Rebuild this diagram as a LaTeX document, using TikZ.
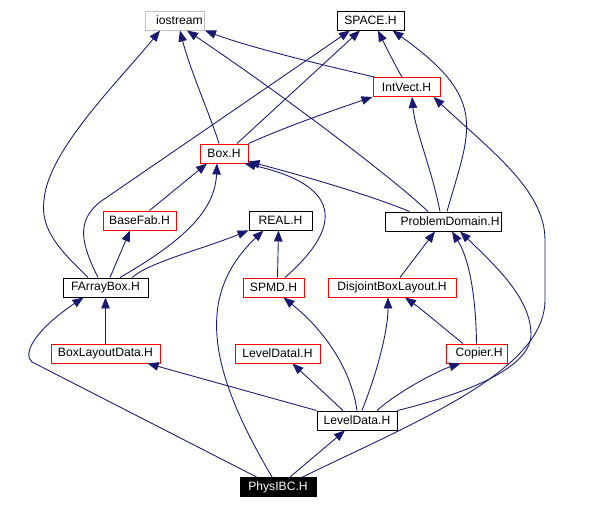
\documentclass[tikz,border=0pt]{standalone}
\usepackage{fontspec}
\setmainfont{Liberation Sans}
\usepackage{xcolor}
\usepackage{tikz}
\usetikzlibrary{arrows.meta, calc}
\definecolor{azulgraf}{HTML}{191970}
\definecolor{cinzaborda}{HTML}{BFBFBF}
\tikzset{
    arq/.style      = {draw, line width=0.55pt, inner sep=0pt, minimum height=0.38cm,
                       font=\fontsize{6.9}{8}\selectfont},
    arqpreto/.style = {arq, draw=black},
    arqverm/.style  = {arq, draw=red},
    arqcinza/.style = {arq, draw=cinzaborda},
    arqatual/.style = {arq, draw=black, fill=black, text=white},
    inc/.style      = {-{Triangle[length=0.22cm, width=0.17cm]}, azulgraf, line width=0.5pt},
}

\begin{document}
\begin{tikzpicture}[x=0.02cm, y=-0.02cm]
    \useasboundingbox (0,0) rectangle (610,509);
    % arquivos
    \node[arqcinza, minimum width=1.18cm] (ios)   at (175,20.5)   {\hspace{5pt}iostream};
    \node[arqpreto, minimum width=1.34cm] (space) at (370.5,20.5) {SPACE.H};
    \node[arqverm,  minimum width=1.34cm] (iv)    at (406.5,87)   {IntVect.H};
    \node[arqverm,  minimum width=0.96cm] (box)   at (224,153.5)  {Box.H};
    \node[arqverm,  minimum width=1.46cm] (bf)    at (139.5,220.5) {BaseFab.H};
    \node[arqpreto, minimum width=1.26cm] (real)  at (280.5,220.5) {REAL.H};
    \node[arqpreto, minimum width=2.32cm] (pd)    at (443,221.5)  {\hspace{8pt}ProblemDomain.H};
    \node[arqpreto, minimum width=1.70cm] (fab)   at (105.5,287.5) {FArrayBox.H};
    \node[arqverm,  minimum width=1.22cm] (spmd)  at (273.5,287.5) {SPMD.H};
    \node[arqverm,  minimum width=2.56cm] (dbl)   at (392,287.5)  {DisjointBoxLayout.H};
    \node[arqverm,  minimum width=2.18cm] (bld)   at (105.5,353.5) {BoxLayoutData.H};
    \node[arqverm,  minimum width=1.70cm] (ldi)   at (277.5,353.5) {LevelDataI.H};
    \node[arqverm,  minimum width=1.22cm] (cop)   at (476.5,353.5) {\hspace{3pt}Copier.H};
    \node[arqpreto, minimum width=1.60cm] (ld)    at (357,420.5)  {LevelData.H};
    \node[arqatual, minimum width=1.52cm] (phys)  at (278,487)    {PhysIBC.H};

    % IntVect.H e Box.H
    \draw[inc] ($(iv.north west)+(2,0)$) .. controls (300,60) and (240,44) .. (ios.south east);
    \draw[inc] ($(iv.north)+(-4.5,0)$) .. controls (395,65) and (385,45) .. ($(space.south)+(7.5,0)$);
    \draw[inc] ($(box.north)+(-5,0)$) .. controls (212,120) and (190,70) .. ($(ios.south)+(5,0)$);
    \draw[inc] ($(box.north)+(13,0)$) -- ($(space.south)+(-10.5,0)$);
    \draw[inc] (box.north east) .. controls (290,125) and (340,108) .. (iv.south west);
    % ProblemDomain.H
    \draw[inc] ($(pd.north)+(-15,0)$) .. controls (395,180) and (290,100) .. ($(ios.south)+(12,0)$);
    \draw[inc] ($(pd.north)+(4,0)$) .. controls (470,130) and (490,100) .. ($(space.south)+(22,0)$);
    \draw[inc] ($(pd.north)+(-3,0)$) .. controls (432,170) and (415,130) .. ($(iv.south)+(5.5,0)$);
    \draw[inc] ($(pd.north west)+(25,0)$) .. controls (370,195) and (300,175) .. ($(box.south east)+(0,-2)$);
    % FArrayBox.H
    \draw[inc] ($(fab.north)+(-17.5,0)$) .. controls (60,250) and (40,230) .. (44,200)
        .. controls (48,150) and (120,80) .. ($(ios.south)+(-15,0)$);
    \draw[inc] ($(fab.north)+(-7.5,0)$) .. controls (82,245) and (75,222) .. (100,202)
        -- ($(space.south)+(-20.5,0)$);
    \draw[inc] ($(fab.north)+(4.5,0)$) -- ($(bf.south)+(-9.5,0)$);
    \draw[inc] ($(fab.north)+(14.5,0)$) .. controls (185,240) and (215,210) .. ($(box.south)+(-7,0)$);
    \draw[inc] ($(fab.north)+(26.5,0)$) .. controls (150,262) and (200,250) .. (real.south west);
    \draw[inc] ($(bf.north)+(10,0)$) -- ($(box.south)+(-17,0)$);
    % SPMD.H
    \draw[inc] ($(spmd.north)+(4,0)$) -- ($(real.south)+(-2,0)$);
    \draw[inc] ($(spmd.north)+(11.5,0)$) .. controls (345,225) and (340,185) .. ($(box.south east)+(-4,0)$);
    % DisjointBoxLayout.H e Copier.H
    \draw[inc] ($(dbl.north)+(8,0)$) -- ($(pd.south)+(-8,0)$);
    \draw[inc] ($(cop.north)+(-13.5,0)$) .. controls (440,325) and (420,308) .. ($(dbl.south)+(13,0)$);
    \draw[inc] (cop.north) .. controls (476,300) and (470,260) .. ($(pd.south)+(9,0)$);
    % BoxLayoutData.H
    \draw[inc] (bld.north) -- (fab.south);
    % LevelData.H
    \draw[inc] (ld.north west) -- ($(bld.south)+(42,0)$);
    \draw[inc] ($(ld.north)+(-14,0)$) -- ($(ldi.south)+(15,0)$);
    \draw[inc] (ld.north) .. controls (352,375) and (330,335) .. ($(spmd.south)+(10,0)$);
    \draw[inc] ($(ld.north)+(5,0)$) .. controls (378,370) and (388,330) .. ($(dbl.south)+(-4,0)$);
    \draw[inc] ($(ld.north)+(20,0)$) .. controls (400,390) and (440,370) .. ($(cop.south)+(-16,0)$);
    \draw[inc] (ld.north east) .. controls (460,395) and (530,370) .. (531,335)
        .. controls (531,300) and (500,270) .. ($(pd.south)+(17,0)$);
    % PhysIBC.H
    \draw[inc] ($(phys.north east)+(-14,0)$) .. controls (420,420) and (545,370) .. (545,300)
        -- (545,240) .. controls (545,190) and (490,150) .. ($(iv.south east)+(-7,0)$);
    \draw[inc] ($(phys.north)+(12,0)$) -- ($(ld.south)+(-12,0)$);
    \draw[inc] ($(phys.north)+(-6,0)$) .. controls (215,380) and (190,300) .. ($(real.south)+(-17,0)$);
    \draw[inc] ($(phys.north west)+(17,0)$) -- (32,362) .. controls (22,354) and (35,330) .. ($(fab.south)+(-22,0)$);
\end{tikzpicture}
\end{document}
